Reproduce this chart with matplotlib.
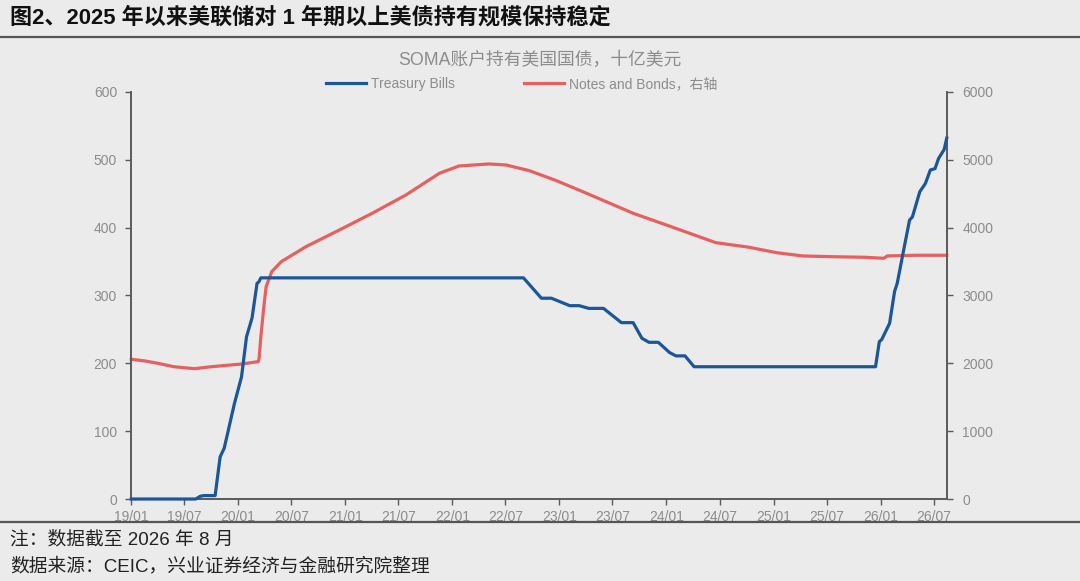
import matplotlib
matplotlib.use("Agg")
import matplotlib.pyplot as plt
import matplotlib.dates as mdates
from matplotlib.lines import Line2D
import pandas as pd

plt.rcParams['font.family'] = ['Liberation Sans', 'Noto Sans CJK SC', 'DejaVu Sans']

# Treasury Bills, left axis (billion USD)
bills_dates = ["2019-01-02", "2019-08-10", "2019-08-25", "2019-09-05", "2019-10-15",
               "2019-11-01", "2019-11-15", "2019-12-20", "2020-01-13", "2020-01-30",
               "2020-02-18", "2020-03-06", "2020-03-12", "2020-03-19", "2022-09-01",
               "2022-11-01", "2022-12-05", "2023-02-06", "2023-03-10", "2023-04-12",
               "2023-06-01", "2023-08-01", "2023-09-10", "2023-10-10", "2023-11-03",
               "2023-12-05", "2024-01-12", "2024-02-03", "2024-03-05", "2024-04-05",
               "2025-12-15", "2025-12-28", "2026-01-05", "2026-02-01", "2026-02-18",
               "2026-02-27", "2026-03-21", "2026-04-10", "2026-04-20", "2026-05-15",
               "2026-06-03", "2026-06-20", "2026-07-06", "2026-07-18", "2026-08-06",
               "2026-08-15"]
bills = [0, 0, 4, 5, 5,
         62, 75, 141, 180, 239,
         267, 318, 320, 326, 326,
         296, 296, 285, 285, 281,
         281, 260, 260, 237, 231,
         231, 216, 211, 211, 195,
         195, 232, 235, 259, 306,
         318, 367, 411, 416, 453,
         465, 485, 487, 502, 515,
         532]

# Notes and Bonds, right axis (billion USD)
notes_dates = ["2019-01-02", "2019-02-18", "2019-04-03", "2019-05-28", "2019-08-06",
               "2019-10-01", "2020-01-13", "2020-03-10", "2020-03-13", "2020-03-19",
               "2020-03-28", "2020-04-06", "2020-04-25", "2020-05-28", "2020-08-20",
               "2020-12-12", "2021-04-03", "2021-07-27", "2021-11-18", "2022-01-24",
               "2022-05-06", "2022-07-03", "2022-09-21", "2022-12-22", "2023-03-22",
               "2023-06-10", "2023-09-10", "2024-01-01", "2024-04-22", "2024-06-18",
               "2024-10-10", "2025-01-10", "2025-04-10", "2025-07-20", "2025-11-12",
               "2026-01-12", "2026-01-24", "2026-05-01", "2026-08-15"]
notes = [2060, 2035, 2000, 1950, 1921,
         1950, 1990, 2025, 2070, 2393,
         2787, 3130, 3351, 3500, 3720,
         3966, 4212, 4482, 4801, 4909,
         4939, 4924, 4840, 4693, 4531,
         4383, 4212, 4040, 3867, 3779,
         3711, 3632, 3583, 3572, 3563,
         3548, 3583, 3593, 3593]

bg = '#ebebeb'
blue = '#1b5797'
red = '#e5605f'
grey_txt = '#8c8c8c'
spine_c = '#5a5a5a'

fig = plt.figure(figsize=(10.8, 5.81), dpi=100, facecolor=bg)
ax = fig.add_axes([0.1213, 0.1411, 0.7556, 0.7006])
ax.set_facecolor(bg)
ax2 = ax.twinx()

l1, = ax.plot(pd.to_datetime(bills_dates), bills, color=blue, lw=2.3,
              solid_joinstyle='round', clip_on=False, zorder=3)
l2, = ax2.plot(pd.to_datetime(notes_dates), notes, color=red, lw=2.3,
               solid_joinstyle='round', clip_on=False)
ax.set_zorder(ax2.get_zorder() + 1)
ax.patch.set_visible(False)
ax2.patch.set_facecolor(bg)

ax.set_ylim(0, 600)
ax2.set_ylim(0, 6000)
ax.set_yticks(range(0, 601, 100))
ax2.set_yticks(range(0, 6001, 1000))
ax.set_xlim(pd.Timestamp("2019-01-01"), pd.Timestamp("2026-08-16"))
ax.xaxis.set_major_locator(mdates.MonthLocator(bymonth=[1, 7]))
ax.xaxis.set_major_formatter(mdates.DateFormatter('%y/%m'))

for a in (ax, ax2):
    a.spines['top'].set_visible(False)
    for s in ('left', 'right', 'bottom'):
        a.spines[s].set_color(spine_c)
        a.spines[s].set_linewidth(1.2)
    a.tick_params(colors=spine_c, labelcolor=grey_txt, labelsize=10, length=4, width=1)
ax.tick_params(axis='y', pad=6)
ax2.tick_params(axis='y', pad=7)
ax.tick_params(axis='x', pad=4)

fig.text(0.009, 0.969, "图2、2025 年以来美联储对 1 年期以上美债持有规模保持稳定",
         fontsize=15.9, fontweight='bold', color='#111111', va='center', ha='left')
fig.add_artist(Line2D([0, 1], [0.936, 0.936], color='#555555', lw=1.6))
fig.add_artist(Line2D([0, 1], [0.1015, 0.1015], color='#555555', lw=1.6))

fig.text(0.5, 0.8967, "SOMA账户持有美国国债，十亿美元", fontsize=12.8, color=grey_txt,
         ha='center', va='center')
fig.legend([l1, l2], ["Treasury Bills", "Notes and Bonds，右轴"], loc='center',
           bbox_to_anchor=(0.483, 0.8554), ncol=2, frameon=False, fontsize=10,
           labelcolor=grey_txt, handlelength=2.9, handletextpad=0.4, columnspacing=4.9)

fig.text(0.009, 0.0706, "注：数据截至 2026 年 8 月", fontsize=13.5, color='#222222',
         ha='left', va='center')
fig.text(0.009, 0.026, "数据来源：CEIC，兴业证券经济与金融研究院整理", fontsize=13.5,
         color='#222222', ha='left', va='center')

fig.savefig('out.png', dpi=100, facecolor=bg)
